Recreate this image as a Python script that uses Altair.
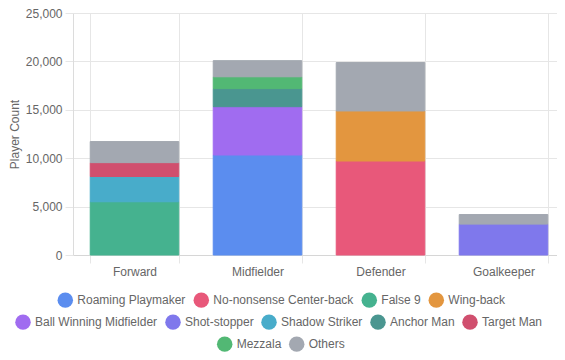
import altair as alt
import pandas as pd

positions = ["Forward", "Midfielder", "Defender", "Goalkeeper"]

roles = [
    "Roaming Playmaker", "No-nonsense Center-back", "False 9", "Wing-back",
    "Ball Winning Midfielder", "Shot-stopper", "Shadow Striker", "Anchor Man",
    "Target Man", "Mezzala", "Others",
]

colors = [
    "#5B8DEF", "#E8587A", "#45B28F", "#E3963F",
    "#A06CF0", "#7F78EC", "#48ACCA", "#4A9690",
    "#D04F6E", "#52B874", "#A3A8B1",
]

# values per role, in order of positions
roaming_playmaker = [0, 10330, 0, 0]
no_nonsense_cb = [0, 0, 9710, 0]
false_9 = [5500, 0, 0, 0]
wing_back = [0, 0, 5170, 0]
ball_winning_mid = [0, 4990, 0, 0]
shot_stopper = [0, 0, 0, 3190]
shadow_striker = [2610, 0, 0, 0]
anchor_man = [0, 1870, 0, 0]
target_man = [1430, 0, 0, 0]
mezzala = [0, 1220, 0, 0]
others = [2180, 1670, 5000, 990]

series = [roaming_playmaker, no_nonsense_cb, false_9, wing_back, ball_winning_mid,
          shot_stopper, shadow_striker, anchor_man, target_man, mezzala, others]

legend_rows = [roles[0:4], roles[4:9], roles[9:11]]
legend_color_rows = [colors[0:4], colors[4:9], colors[9:11]]
legend_xy = [(-15.7, 279), (-58, 301), (143.7, 323)]

rows = []
for i, (role, vals) in enumerate(zip(roles, series)):
    for pos, v in zip(positions, vals):
        if v > 0:
            rows.append({"position": pos, "role": role, "order": i, "count": v})
df = pd.DataFrame(rows)

FONT = "Liberation Sans"
GRID = "#e6e6e6"

x_enc = alt.X(
    "position:N", sort=positions, title=None,
    scale=alt.Scale(paddingInner=0.28, paddingOuter=0.14),
    axis=alt.Axis(labelAngle=0, tickBand="extent", grid=True, gridColor=GRID,
                  tickColor=GRID, tickSize=8, labelPadding=3, domainColor="#d6d6d6",
                  labelColor="#666666", labelFontSize=12, labelFont=FONT),
)
y_enc = alt.Y(
    "y0:Q", scale=alt.Scale(domain=[0, 25000]),
    axis=alt.Axis(title="Player Count", values=[0, 5000, 10000, 15000, 20000, 25000],
                  format=",d", gridColor=GRID, tickColor=GRID, tickSize=8,
                  labelPadding=3, domainColor="#dcdcdc", labelColor="#666666",
                  labelFontSize=12, labelFont=FONT, titleFont=FONT, titleFontSize=12,
                  titleFontWeight="normal", titleColor="#666666", titlePadding=4),
)

layers = []
for rr, cc, (lx, ly) in zip(legend_rows, legend_color_rows, legend_xy):
    layer = alt.Chart().transform_filter(
        alt.FieldOneOfPredicate(field="role", oneOf=rr)
    ).mark_bar(strokeWidth=1, opacity=1).encode(
        x=x_enc,
        y=y_enc,
        y2="y1:Q",
        color=alt.Color(
            "role:N",
            scale=alt.Scale(domain=rr, range=cc),
            legend=alt.Legend(orient="none", legendX=lx, legendY=ly, direction="horizontal",
                              title=None, symbolType="circle", symbolSize=240,
                              symbolStrokeWidth=0, labelFontSize=12, labelColor="#666666",
                              labelFont=FONT, labelOffset=4, columnPadding=7),
        ),
        stroke=alt.Color("role:N", scale=alt.Scale(domain=roles, range=colors), legend=None),
        tooltip=["position:N", "role:N", "count:Q"],
    )
    layers.append(layer)

chart = alt.layer(*layers, data=df).transform_stack(
    stack="count", groupby=["position"], as_=["y0", "y1"],
    sort=[alt.SortField("order", order="ascending")],
).resolve_scale(color="independent", stroke="shared").properties(
    width=492, height=242,
    padding={"left": 65, "top": 5, "right": -8, "bottom": 97},
    autosize=alt.AutoSizeParams(type="none"),
).configure_view(stroke=None)

chart.save("out.html", embed_options={"renderer": "svg", "actions": False})
